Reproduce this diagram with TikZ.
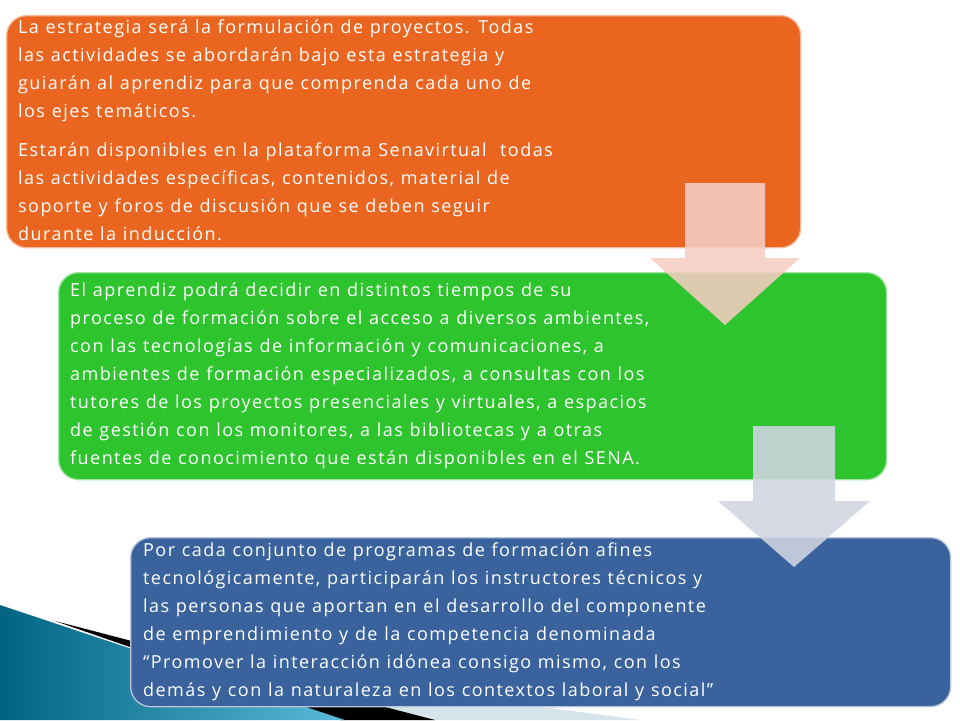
\documentclass[tikz,border=0pt]{standalone}
\usepackage{fontspec}
\setmainfont{Open Sans}[LetterSpace=8,WordSpace=1.1]
\usetikzlibrary{positioning}
\definecolor{orangebox}{RGB}{234,102,32}
\definecolor{greenbox}{RGB}{46,196,46}
\definecolor{bluebox}{RGB}{58,99,158}
\definecolor{arrowpink}{RGB}{246,205,195}
\definecolor{arrowgray}{RGB}{208,213,226}
\definecolor{tealdark}{RGB}{0,100,130}
\definecolor{teallight}{RGB}{90,185,215}
\definecolor{palewedge}{RGB}{215,228,236}
\tikzset{
  panel/.style={rounded corners=20pt, line width=1.3pt, inner sep=0pt},
  paneltext/.style={anchor=north west, align=left, inner sep=0pt, text=white,
    font=\fontsize{18}{28}\selectfont},
  bigarrow/.style={draw=none, fill opacity=0.88}
}
\begin{document}
\begin{tikzpicture}[x=1pt,y=-1pt]
\useasboundingbox (0,0) rectangle (960,720);
\fill[white] (0,0) rectangle (960,720);
% bottom-left swoosh decoration
\fill[palewedge] (250,668) -- (640,720) -- (420,720) -- cycle;
\fill[black] (55,621) -- (435,720) -- (340,720) -- cycle;
\shade[left color=tealdark, right color=teallight] (0,605) -- (345,720) -- (0,720) -- cycle;
% panels
\node[panel, draw=orangebox!45!white, fill=orangebox, minimum width=794pt, minimum height=232pt, anchor=north west] (p1) at (6,15) {};
\node[panel, draw=greenbox!45!white, fill=greenbox, minimum width=828pt, minimum height=207pt, anchor=north west] (p2) at (58,272) {};
\node[panel, draw=bluebox!35!white, fill=bluebox, minimum width=820pt, minimum height=169pt, anchor=north west] (p3) at (130,537) {};
% texts
\node[paneltext] (t1) at (18,20) {La estrategia será la formulación de proyectos. Todas\\
las actividades se abordarán bajo esta estrategia y\\
guiarán al aprendiz para que comprenda cada uno de\\
los ejes temáticos.\\[11pt]
Estarán disponibles en la plataforma Senavirtual~ todas\\
las actividades específicas, contenidos, material de\\
soporte y foros de discusión que se deben seguir\\
durante la inducción.};
\node[paneltext] (t2) at (70,283) {El aprendiz podrá decidir en distintos tiempos de su\\
proceso de formación sobre el acceso a diversos ambientes,\\
con las tecnologías de información y comunicaciones, a\\
ambientes de formación especializados, a consultas con los\\
tutores de los proyectos presenciales y virtuales, a espacios\\
de gestión con los monitores, a las bibliotecas y a otras\\
fuentes de conocimiento que están disponibles en el SENA.};
\node[paneltext] (t3) at (143,542) {Por cada conjunto de programas de formación afines\\
tecnológicamente, participarán los instructores técnicos y\\
las personas que aportan en el desarrollo del componente\\
de emprendimiento y de la competencia denominada\\
“Promover la interacción idónea consigo mismo, con los\\
demás y con la naturaleza en los contextos laboral y social”};
% arrows
\coordinate (a1) at (725,325);
\coordinate (a2) at (794,567);
\fill[bigarrow, fill=arrowpink] (685,183) -- (765,183) -- (765,258) -- (800,258) -- (a1) -- (650,258) -- (685,258) -- cycle;
\fill[bigarrow, fill=arrowgray] (753,426) -- (835,426) -- (835,501) -- (870,501) -- (a2) -- (718,501) -- (753,501) -- cycle;
\end{tikzpicture}
\end{document}
